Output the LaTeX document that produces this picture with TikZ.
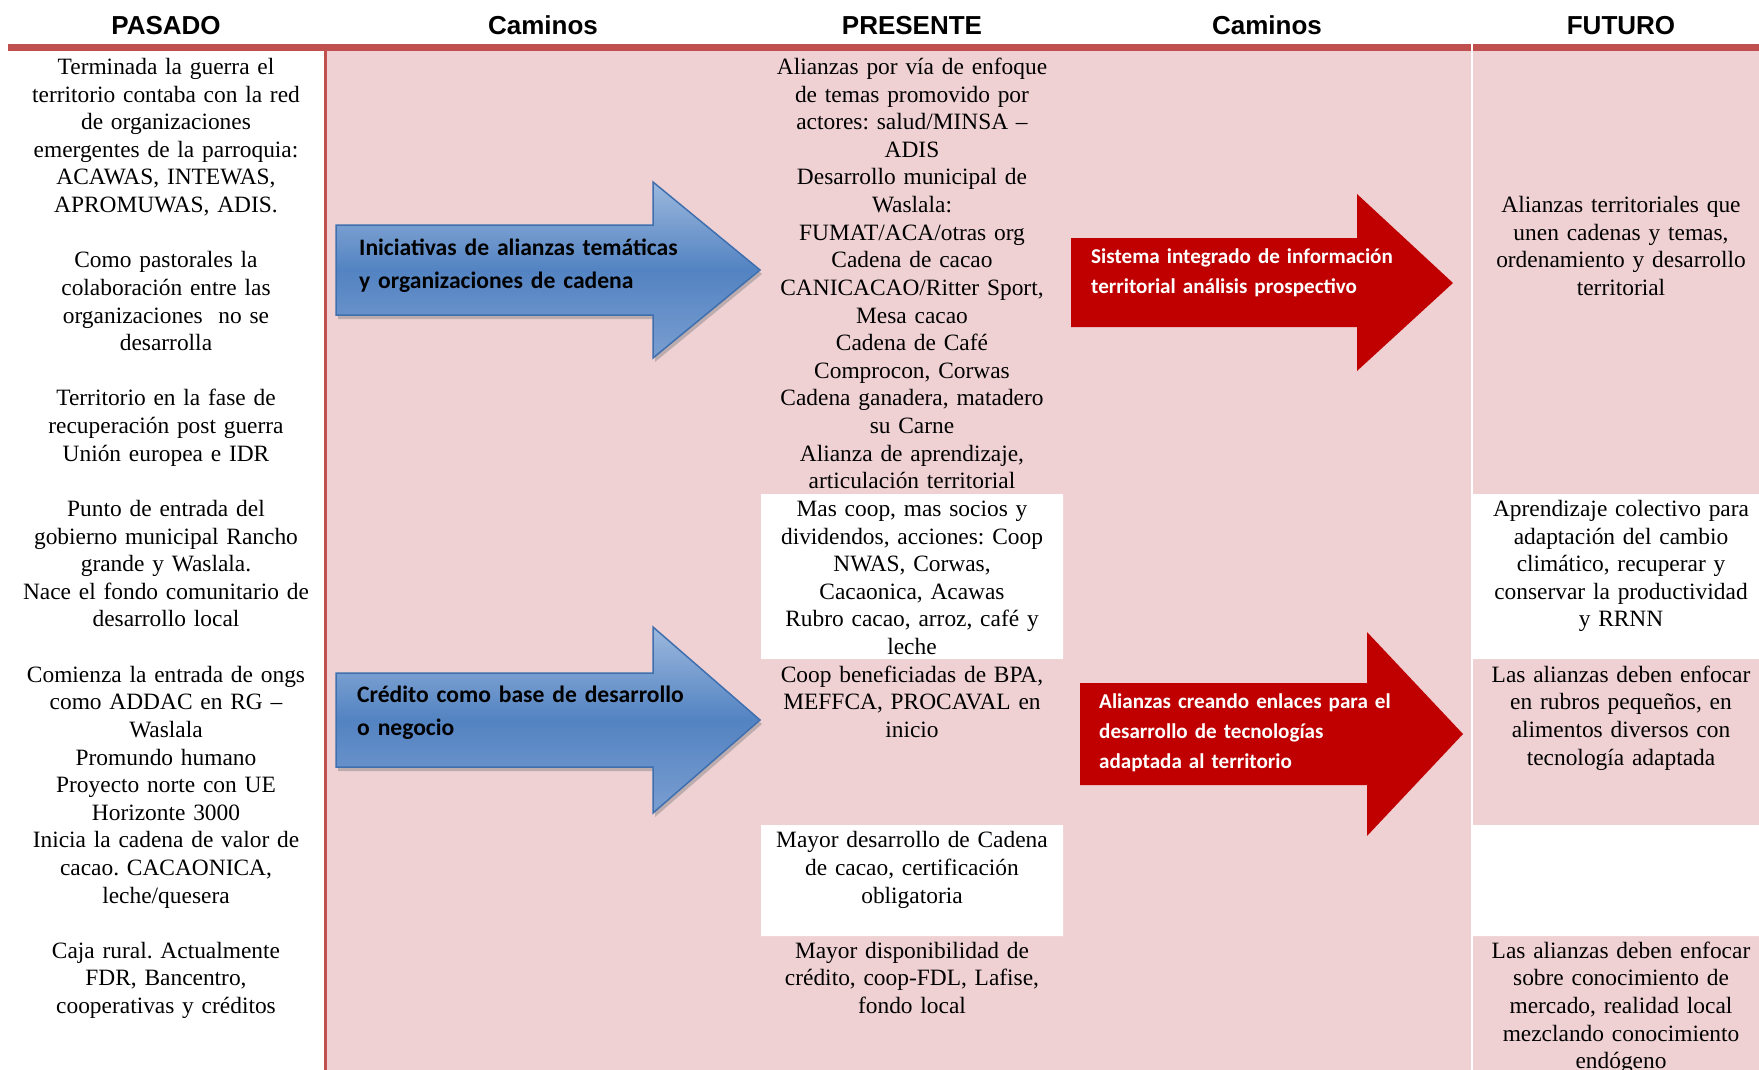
\documentclass[tikz,border=0pt]{standalone}
\usepackage{fontspec}
\setmainfont{Liberation Serif}
\newfontfamily\arialfont{Liberation Sans}
\newfontfamily\calibrifont{Carlito}
\usetikzlibrary{shadows}
\frenchspacing
\definecolor{banda}{HTML}{C0504D}
\definecolor{rosa}{HTML}{EFD1D3}
\definecolor{rojo}{HTML}{C00000}
\definecolor{azulA}{HTML}{9CB8DD}
\definecolor{azulB}{HTML}{5383C2}
\definecolor{azulC}{HTML}{7A9ED0}
\definecolor{azulBorde}{HTML}{3F6FAE}
\newcommand{\fila}[1]{74.5+27.62*#1}
\begin{document}
\begin{tikzpicture}[x=1pt,y=-1pt,
	titulo/.style={font=\arialfont\bfseries\fontsize{26}{30}\selectfont, anchor=base, inner sep=0pt},
	celda/.style={font=\fontsize{23.4}{27.62}\selectfont, align=center, text width=#1pt, inner sep=0pt, anchor=base},
	textoazul/.style={font=\calibrifont\bfseries\fontsize{23.6}{33}\selectfont, align=left, text width=400pt, inner sep=0pt, anchor=base west},
	textorojo/.style={font=\calibrifont\bfseries\fontsize{21.1}{30}\selectfont, text=white, align=left, text width=400pt, inner sep=0pt, anchor=base west}]
	\useasboundingbox (0,0) rectangle (1759,1070);
	\fill[white] (0,0) rectangle (1759,1070);
	% fondo de las columnas
	\fill[rosa] (327,51) rectangle (1759,1070);
	\fill[white] (761,494) rectangle (1063,659) (761,825) rectangle (1063,936);
	\fill[white] (1473,494) rectangle (1759,659) (1473,825) rectangle (1759,936);
	\fill[banda] (8,44.5) rectangle (1759,51.5);
	\fill[banda] (323.5,51) rectangle (327,1070);
	\fill[white] (1471,44) rectangle (1472.8,1070);
	% encabezados
	\node[titulo] (tPasado) at (166,35) {PASADO};
	\node[titulo] (tCaminoA) at (543,35) {Caminos};
	\node[titulo] (tPresente) at (912,35) {PRESENTE};
	\node[titulo] (tCaminoB) at (1267,35) {Caminos};
	\node[titulo] (tFuturo) at (1621,35) {FUTURO};
	% flechas azules
	\path[drop shadow={shadow xshift=2pt,shadow yshift=-4pt,opacity=.45}, top color=azulA, bottom color=azulC, middle color=azulB, draw=azulBorde, line width=1.5pt]
		(336,225) -- (653,225) -- (653,182) -- (760,270) -- (653,358) -- (653,315) -- (336,315) -- cycle;
	\path[drop shadow={shadow xshift=2pt,shadow yshift=-4pt,opacity=.45}, top color=azulA, bottom color=azulC, middle color=azulB, draw=azulBorde, line width=1.5pt]
		(336,673) -- (653,673) -- (653,627) -- (760,720) -- (653,813) -- (653,767) -- (336,767) -- cycle;
	\node[textoazul] (flechaA) at (359,255) {Iniciativas de alianzas temáticas\\y organizaciones de cadena};
	\node[textoazul] (flechaB) at (357,702) {Crédito como base de desarrollo\\o negocio};
	% flechas rojas
	\fill[rojo] (1071,238) -- (1357,238) -- (1357,194) -- (1453,283) -- (1357,371) -- (1357,327) -- (1071,327) -- cycle;
	\fill[rojo] (1080,683) -- (1367,683) -- (1367,632) -- (1463,734) -- (1367,836) -- (1367,785) -- (1080,785) -- cycle;
	\node[textorojo] (flechaC) at (1091,263) {Sistema integrado de información\\territorial análisis prospectivo};
	\node[textorojo] (flechaD) at (1099,708) {Alianzas creando enlaces para el\\desarrollo de tecnologías\\adaptada al territorio};
	% PASADO
	\node[celda=310] (pas1) at (166,{\fila{0}}) {Terminada la guerra el\\territorio contaba con la red\\de organizaciones\\emergentes de la parroquia:\\ACAWAS, INTEWAS,\\APROMUWAS, ADIS.};
	\node[celda=310] (pas2) at (166,{\fila{7}}) {Como pastorales la\\colaboración entre las\\organizaciones\ \ no se\\desarrolla};
	\node[celda=310] (pas3) at (166,{\fila{12}}) {Territorio en la fase de\\recuperación post guerra\\Unión europea e IDR};
	\node[celda=310] (pas4) at (166,{\fila{16}}) {Punto de entrada del\\gobierno municipal Rancho\\grande y Waslala.\\Nace el fondo comunitario de\\desarrollo local};
	\node[celda=310] (pas5) at (166,{\fila{22}}) {Comienza la entrada de ongs\\como ADDAC en RG –\\Waslala\\Promundo humano\\Proyecto norte con UE\\Horizonte 3000\\Inicia la cadena de valor de\\cacao. CACAONICA,\\leche/quesera};
	\node[celda=310] (pas6) at (166,{\fila{32}}) {Caja rural. Actualmente\\FDR, Bancentro,\\cooperativas y créditos};
	% PRESENTE
	\node[celda=300] (pre1) at (912,{\fila{0}}) {Alianzas por vía de enfoque\\de temas promovido por\\actores: salud/MINSA –\\ADIS\\Desarrollo municipal de\\Waslala:\\FUMAT/ACA/otras org\\Cadena de cacao\\CANICACAO/Ritter Sport,\\Mesa cacao\\Cadena de Café\\Comprocon, Corwas\\Cadena ganadera, matadero\\su Carne\\Alianza de aprendizaje,\\articulación territorial};
	\node[celda=300] (pre2) at (912,{\fila{16}}) {Mas coop, mas socios y\\dividendos, acciones: Coop\\NWAS, Corwas,\\Cacaonica, Acawas\\Rubro cacao, arroz, café y\\leche};
	\node[celda=300] (pre3) at (912,{\fila{22}}) {Coop beneficiadas de BPA,\\MEFFCA, PROCAVAL en\\inicio};
	\node[celda=300] (pre4) at (912,{\fila{28}}) {Mayor desarrollo de Cadena\\de cacao, certificación\\obligatoria};
	\node[celda=300] (pre5) at (912,{\fila{32}}) {Mayor disponibilidad de\\crédito, coop-FDL, Lafise,\\fondo local};
	% FUTURO
	\node[celda=284] (fut1) at (1621,{\fila{5}}) {Alianzas territoriales que\\unen cadenas y temas,\\ordenamiento y desarrollo\\territorial};
	\node[celda=284] (fut2) at (1621,{\fila{16}}) {Aprendizaje colectivo para\\adaptación del cambio\\climático, recuperar y\\conservar la productividad\\y RRNN};
	\node[celda=284] (fut3) at (1621,{\fila{22}}) {Las alianzas deben enfocar\\en rubros pequeños, en\\alimentos diversos con\\tecnología adaptada};
	\node[celda=284] (fut4) at (1621,{\fila{32}}) {Las alianzas deben enfocar\\sobre conocimiento de\\mercado, realidad local\\mezclando conocimiento\\endógeno};
\end{tikzpicture}
\end{document}
